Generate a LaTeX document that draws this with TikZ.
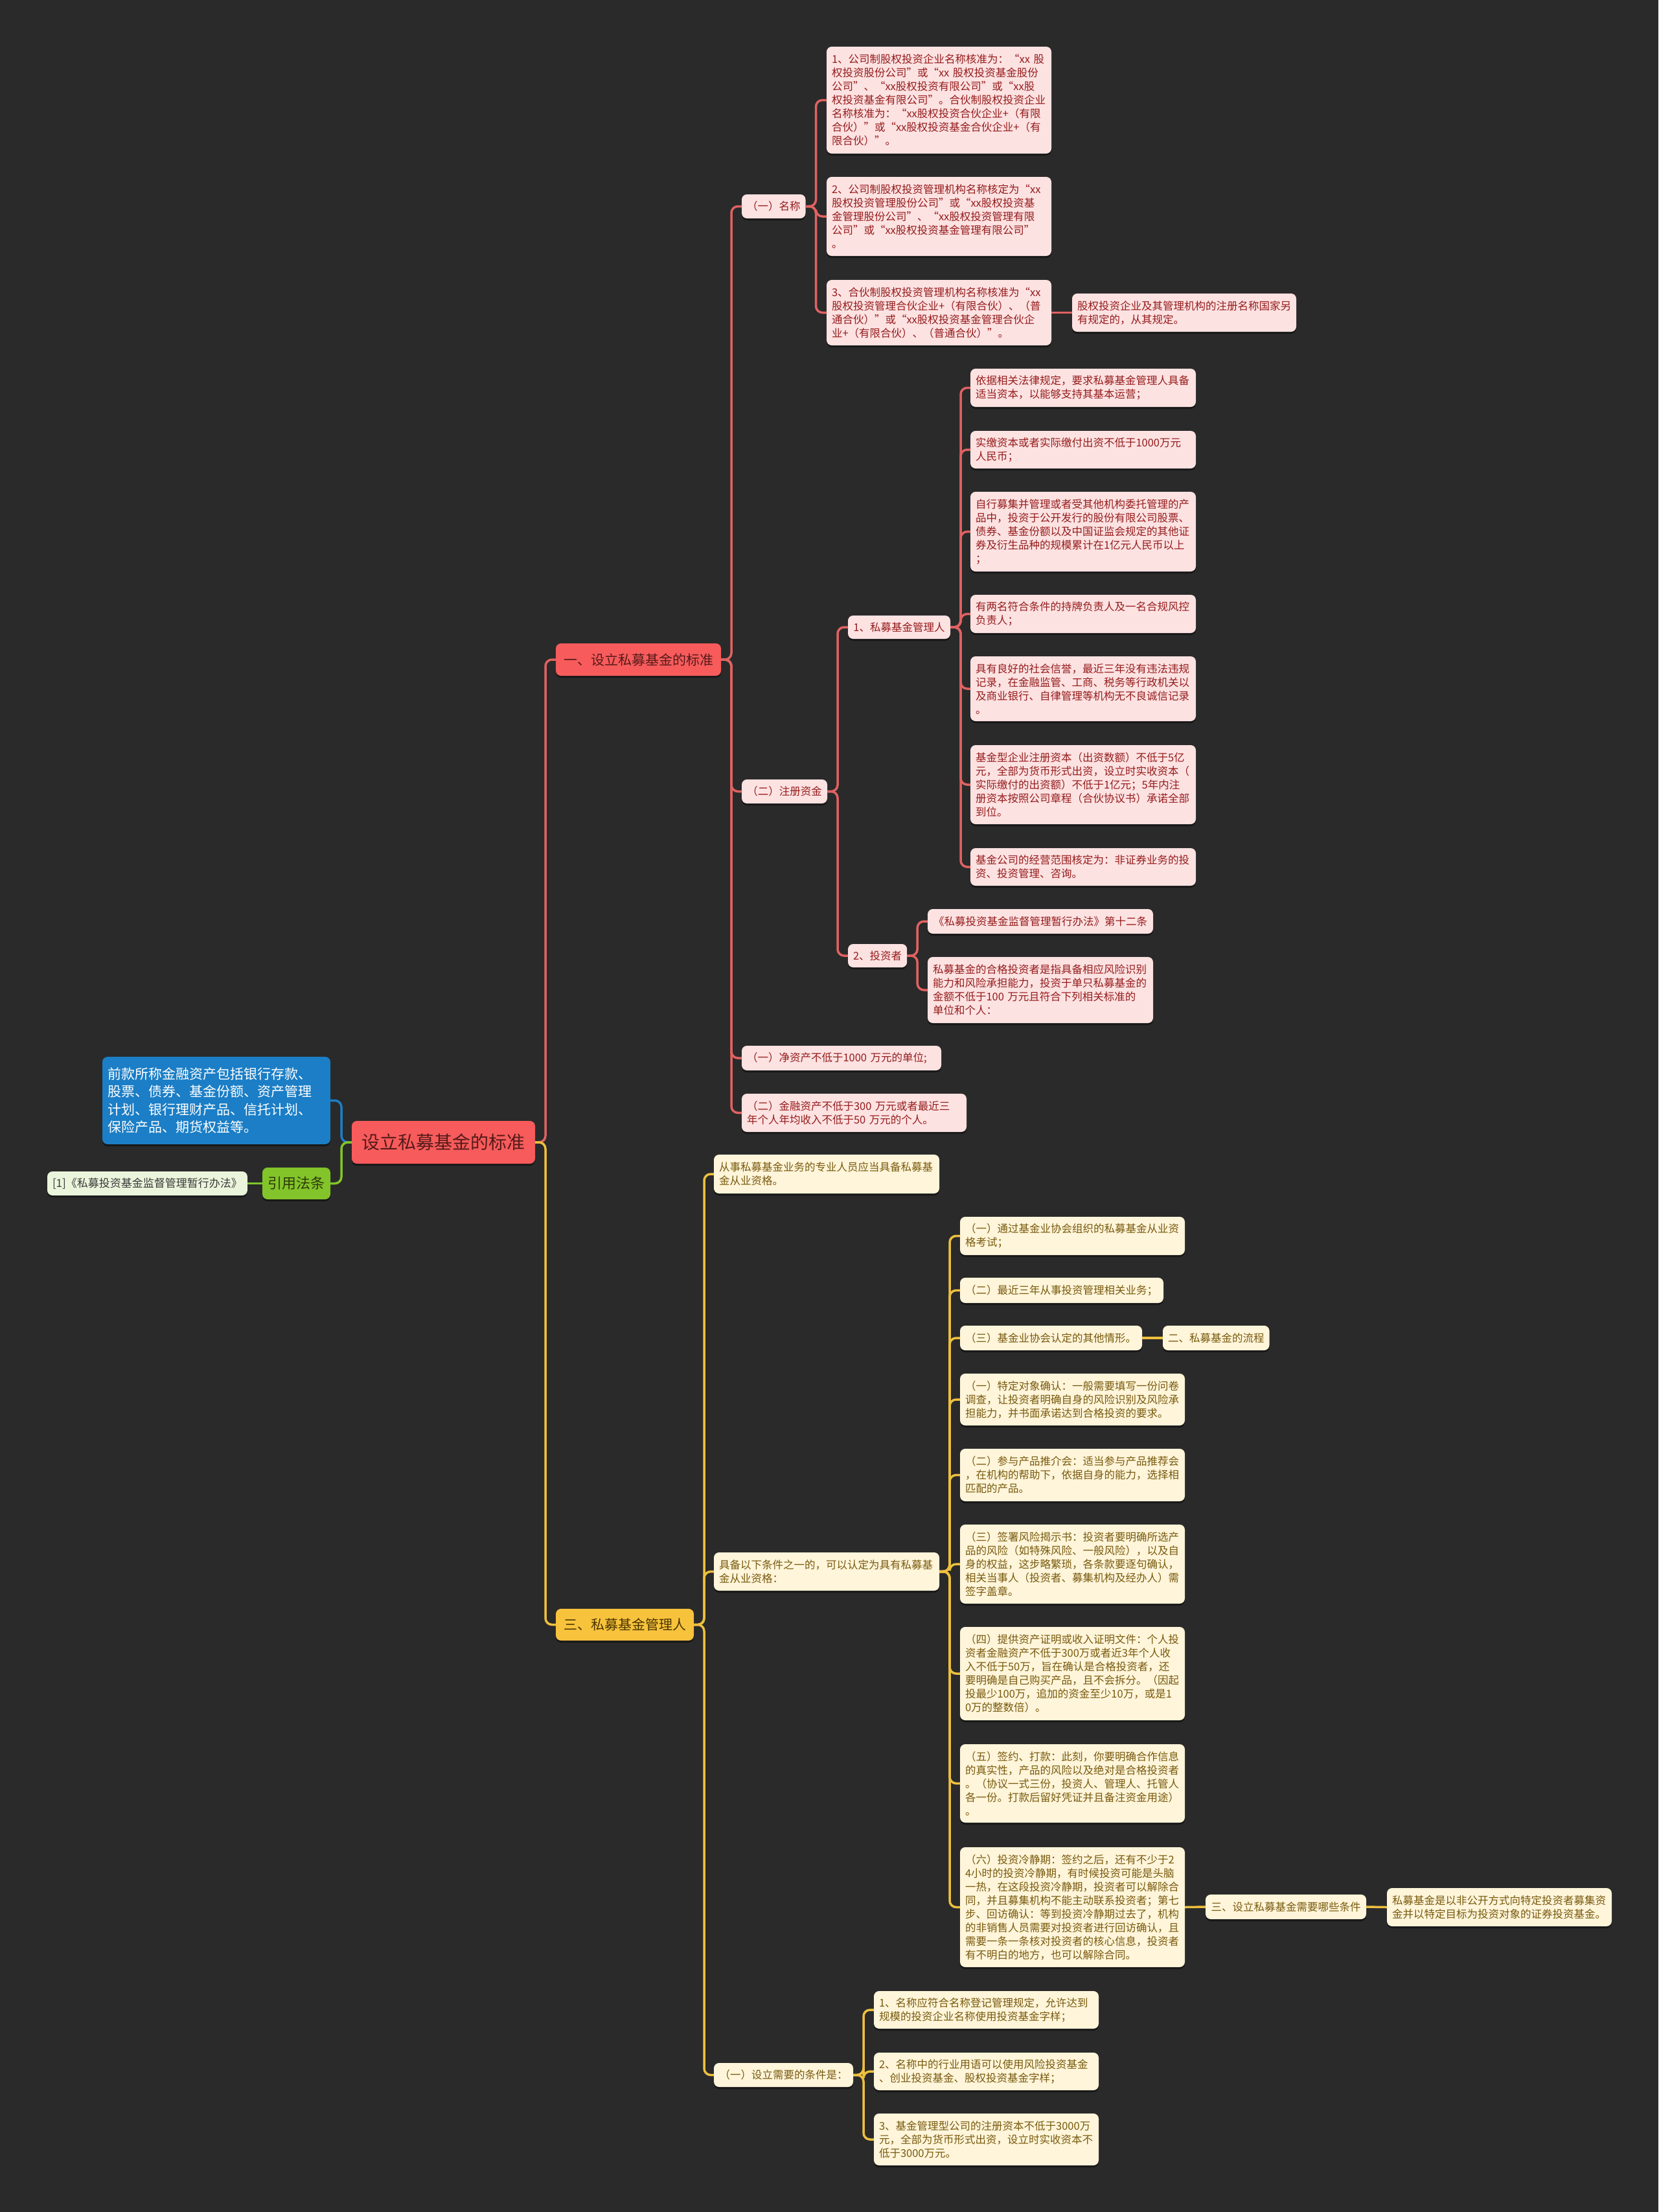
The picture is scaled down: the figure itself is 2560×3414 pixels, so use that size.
\documentclass[tikz,border=0pt]{standalone}
\usepackage{fontspec}
\setmainfont{Noto Sans CJK SC}
\usetikzlibrary{shadows}
\definecolor{bgc}{HTML}{2A2A2A}
\definecolor{redf}{HTML}{F75B5B}
\definecolor{redt}{HTML}{561A1A}
\definecolor{pinkf}{HTML}{FDE2E2}
\definecolor{pinkt}{HTML}{951C1C}
\definecolor{redl}{HTML}{E06262}
\definecolor{yelf}{HTML}{F8C33C}
\definecolor{yelt}{HTML}{4A3500}
\definecolor{creamf}{HTML}{FFF5DA}
\definecolor{creamt}{HTML}{785A0E}
\definecolor{yell}{HTML}{EDC03E}
\definecolor{bluef}{HTML}{1B7EC6}
\definecolor{greenf}{HTML}{82C42A}
\definecolor{greent}{HTML}{2D3A0A}
\definecolor{lgreenf}{HTML}{EBF5DC}
\definecolor{lgreent}{HTML}{3A3A3A}
\tikzset{
  base/.style={rounded corners=8pt, inner xsep=8pt, inner ysep=0pt, outer sep=0pt, align=left,
    drop shadow={shadow xshift=0pt, shadow yshift=-3pt, opacity=0.45, fill=black}},
  rootbox/.style={base, fill=redf, text=redt, font=\fontsize{28}{34}\selectfont},
  redmain/.style={base, fill=redf, text=redt, font=\fontsize{21}{26}\selectfont},
  yelmain/.style={base, fill=yelf, text=yelt, font=\fontsize{21}{26}\selectfont},
  pinkbox/.style={base, fill=pinkf, text=pinkt, font=\fontsize{16.5}{21}\selectfont},
  creambox/.style={base, fill=creamf, text=creamt, font=\fontsize{16.5}{21}\selectfont},
  bluebox/.style={base, fill=bluef, text=white, font=\fontsize{21}{27.5}\selectfont},
  greenbox/.style={base, fill=greenf, text=greent, font=\fontsize{22}{26}\selectfont},
  lgreenbox/.style={base, fill=lgreenf, text=lgreent, font=\fontsize{17}{21}\selectfont},
  conn/.style={line width=3.5pt, rounded corners=10pt},
  rl/.style={conn, draw=redl},
  yl/.style={conn, draw=yell},
  bl/.style={conn, draw=bluef},
  gl/.style={conn, draw=greenf},
}
\newcommand\mbx[7]{\pgfmathsetmacro\bxw{#5-#3-16}\pgfmathsetmacro\bxh{#6-#4}%
  \node[#1, anchor=north west, text width=\bxw pt, minimum height=\bxh pt] (#2) at (#3,#4) {#7};}
\newcommand\msx[7]{\pgfmathsetmacro\bxw{#5-#3}\pgfmathsetmacro\bxh{#6-#4}%
  \node[#1, anchor=north west, minimum width=\bxw pt, minimum height=\bxh pt, align=center] (#2) at (#3,#4) {#7};}
\begin{document}
\begin{tikzpicture}[x=1pt, y=-1pt]
\fill[bgc] (0,0) rectangle (2560,3414);
\useasboundingbox (0,0) rectangle (2560,3414);

% root and left side
\msx{rootbox}{root}{543}{1730}{826}{1796}{设立私募基金的标准}
\mbx{bluebox}{blue}{158}{1631}{510}{1766}{前款所称金融资产包括银行存款、\\股票、债券、基金份额、资产管理\\计划、银行理财产品、信托计划、\\保险产品、期货权益等。}
\msx{greenbox}{cite}{405}{1802}{510}{1851}{引用法条}
\msx{lgreenbox}{ref}{73}{1808}{374}{1845}{[1]《私募投资基金监督管理暂行办法》}

% branch 1
\msx{redmain}{b1}{858}{993}{1113}{1043}{一、设立私募基金的标准}
\msx{pinkbox}{mc}{1145}{300}{1243}{337}{（一）名称}
\mbx{pinkbox}{n1}{1276}{72}{1623}{237}{1、公司制股权投资企业名称核准为：“xx 股\\权投资股份公司”或“xx 股权投资基金股份\\公司”、“xx股权投资有限公司”或“xx股\\权投资基金有限公司”。合伙制股权投资企业\\名称核准为：“xx股权投资合伙企业+（有限\\合伙）”或“xx股权投资基金合伙企业+（有\\限合伙）”。}
\mbx{pinkbox}{n2}{1276}{273}{1623}{395}{2、公司制股权投资管理机构名称核定为“xx\\股权投资管理股份公司”或“xx股权投资基\\金管理股份公司”、“xx股权投资管理有限\\公司”或“xx股权投资基金管理有限公司”\\。}
\mbx{pinkbox}{n3}{1276}{432}{1623}{533}{3、合伙制股权投资管理机构名称核准为“xx\\股权投资管理合伙企业+（有限合伙）、（普\\通合伙）”或“xx股权投资基金管理合伙企\\业+（有限合伙）、（普通合伙）”。}
\mbx{pinkbox}{n3a}{1655}{453}{2001}{512}{股权投资企业及其管理机构的注册名称国家另\\有规定的，从其规定。}
\msx{pinkbox}{zc}{1145}{1203}{1277}{1240}{（二）注册资金}
\msx{pinkbox}{pm}{1309}{950}{1467}{986}{1、私募基金管理人}
\mbx{pinkbox}{c1}{1498}{569}{1846}{628}{依据相关法律规定，要求私募基金管理人具备\\适当资本，以能够支持其基本运营；}
\mbx{pinkbox}{c2}{1498}{665}{1846}{723}{实缴资本或者实际缴付出资不低于1000万元\\人民币；}
\mbx{pinkbox}{c3}{1498}{759}{1846}{882}{自行募集并管理或者受其他机构委托管理的产\\品中，投资于公开发行的股份有限公司股票、\\债券、基金份额以及中国证监会规定的其他证\\券及衍生品种的规模累计在1亿元人民币以上\\；}
\mbx{pinkbox}{c4}{1498}{918}{1846}{977}{有两名符合条件的持牌负责人及一名合规风控\\负责人；}
\mbx{pinkbox}{c5}{1498}{1013}{1846}{1113}{具有良好的社会信誉，最近三年没有违法违规\\记录，在金融监管、工商、税务等行政机关以\\及商业银行、自律管理等机构无不良诚信记录\\。}
\mbx{pinkbox}{c6}{1498}{1150}{1846}{1272}{基金型企业注册资本（出资数额）不低于5亿\\元，全部为货币形式出资，设立时实收资本（\\实际缴付的出资额）不低于1亿元；5年内注\\册资本按照公司章程（合伙协议书）承诺全部\\到位。}
\mbx{pinkbox}{c7}{1498}{1309}{1846}{1367}{基金公司的经营范围核定为：非证券业务的投\\资、投资管理、咨询。}
\msx{pinkbox}{tz}{1309}{1457}{1400}{1493}{2、投资者}
\msx{pinkbox}{t1}{1432}{1403}{1780}{1441}{《私募投资基金监督管理暂行办法》第十二条}
\mbx{pinkbox}{t2}{1432}{1477}{1780}{1579}{私募基金的合格投资者是指具备相应风险识别\\能力和风险承担能力，投资于单只私募基金的\\金额不低于100 万元且符合下列相关标准的\\单位和个人：}
\mbx{pinkbox}{j1}{1145}{1614}{1453}{1652}{（一）净资产不低于1000 万元的单位;}
\mbx{pinkbox}{j2}{1145}{1688}{1492}{1747}{（二）金融资产不低于300 万元或者最近三\\年个人年均收入不低于50 万元的个人。}

% branch 2
\msx{yelmain}{b2}{858}{2483}{1071}{2532}{三、私募基金管理人}
\mbx{creambox}{y1}{1102}{1782}{1450}{1842}{从事私募基金业务的专业人员应当具备私募基\\金从业资格。}
\mbx{creambox}{y2}{1102}{2396}{1450}{2455}{具备以下条件之一的，可以认定为具有私募基\\金从业资格：}
\mbx{creambox}{k1}{1482}{1878}{1829}{1937}{（一）通过基金业协会组织的私募基金从业资\\格考试；}
\mbx{creambox}{k2}{1482}{1972}{1796}{2011}{（二）最近三年从事投资管理相关业务；}
\mbx{creambox}{k3}{1482}{2046}{1763}{2084}{（三）基金业协会认定的其他情形。}
\msx{creambox}{k3a}{1795}{2046}{1959}{2084}{二、私募基金的流程}
\mbx{creambox}{k4}{1482}{2120}{1829}{2200}{（一）特定对象确认：一般需要填写一份问卷\\调查，让投资者明确自身的风险识别及风险承\\担能力，并书面承诺达到合格投资的要求。}
\mbx{creambox}{k5}{1482}{2236}{1829}{2317}{（二）参与产品推介会：适当参与产品推荐会\\，在机构的帮助下，依据自身的能力，选择相\\匹配的产品。}
\mbx{creambox}{k6}{1482}{2353}{1829}{2475}{（三）签署风险揭示书：投资者要明确所选产\\品的风险（如特殊风险、一般风险），以及自\\身的权益，这步略繁琐，各条款要逐句确认，\\相关当事人（投资者、募集机构及经办人）需\\签字盖章。}
\mbx{creambox}{k7}{1482}{2511}{1829}{2655}{（四）提供资产证明或收入证明文件：个人投\\资者金融资产不低于300万或者近3年个人收\\入不低于50万，旨在确认是合格投资者，还\\要明确是自己购买产品，且不会拆分。（因起\\投最少100万，追加的资金至少10万，或是1\\0万的整数倍）。}
\mbx{creambox}{k8}{1482}{2692}{1829}{2813}{（五）签约、打款：此刻，你要明确合作信息\\的真实性，产品的风险以及绝对是合格投资者\\。（协议一式三份，投资人、管理人、托管人\\各一份。打款后留好凭证并且备注资金用途）\\。}
\mbx{creambox}{k9}{1482}{2851}{1829}{3036}{（六）投资冷静期：签约之后，还有不少于2\\4小时的投资冷静期，有时候投资可能是头脑\\一热，在这段投资冷静期，投资者可以解除合\\同，并且募集机构不能主动联系投资者；第七\\步、回访确认：等到投资冷静期过去了，机构\\的非销售人员需要对投资者进行回访确认，且\\需要一条一条核对投资者的核心信息，投资者\\有不明白的地方，也可以解除合同。}
\msx{creambox}{k9a}{1861}{2924}{2109}{2962}{三、设立私募基金需要哪些条件}
\mbx{creambox}{k9b}{2141}{2914}{2488}{2973}{私募基金是以非公开方式向特定投资者募集资\\金并以特定目标为投资对象的证券投资基金。}
\msx{creambox}{y3}{1102}{3184}{1317}{3221}{（一）设立需要的条件是：}
\mbx{creambox}{s1}{1349}{3073}{1696}{3131}{1、名称应符合名称登记管理规定，允许达到\\规模的投资企业名称使用投资基金字样；}
\mbx{creambox}{s2}{1349}{3168}{1696}{3226}{2、名称中的行业用语可以使用风险投资基金\\、创业投资基金、股权投资基金字样；}
\mbx{creambox}{s3}{1349}{3262}{1696}{3342}{3、基金管理型公司的注册资本不低于3000万\\元，全部为货币形式出资，设立时实收资本不\\低于3000万元。}

% connectors left
\draw[bl] (root.west) -- ++(-16,0) |- (blue.east);
\draw[gl] (root.west) -- ++(-16,0) |- (cite.east);
\draw[gl] (cite.west) -- (ref.east);

% connectors red
\draw[rl] (root.east) -- ++(16,0) |- (b1.west);
\foreach \c in {mc,zc,j1,j2} \draw[rl] (b1.east) -- ++(16,0) |- (\c.west);
\foreach \c in {n1,n2,n3} \draw[rl] (mc.east) -- ++(16,0) |- (\c.west);
\draw[rl] (n3.east) -- (n3a.west);
\foreach \c in {pm,tz} \draw[rl] (zc.east) -- ++(16,0) |- (\c.west);
\foreach \c in {c1,c2,c3,c4,c5,c6,c7} \draw[rl] (pm.east) -- ++(16,0) |- (\c.west);
\foreach \c in {t1,t2} \draw[rl] (tz.east) -- ++(16,0) |- (\c.west);

% connectors yellow
\draw[yl] (root.east) -- ++(16,0) |- (b2.west);
\foreach \c in {y1,y2,y3} \draw[yl] (b2.east) -- ++(16,0) |- (\c.west);
\foreach \c in {k1,k2,k3,k4,k5,k6,k7,k8,k9} \draw[yl] (y2.east) -- ++(16,0) |- (\c.west);
\draw[yl] (k3.east) -- (k3a.west);
\draw[yl] (k9.east) -- (k9a.west);
\draw[yl] (k9a.east) -- (k9b.west);
\foreach \c in {s1,s2,s3} \draw[yl] (y3.east) -- ++(16,0) |- (\c.west);
\end{tikzpicture}
\end{document}
